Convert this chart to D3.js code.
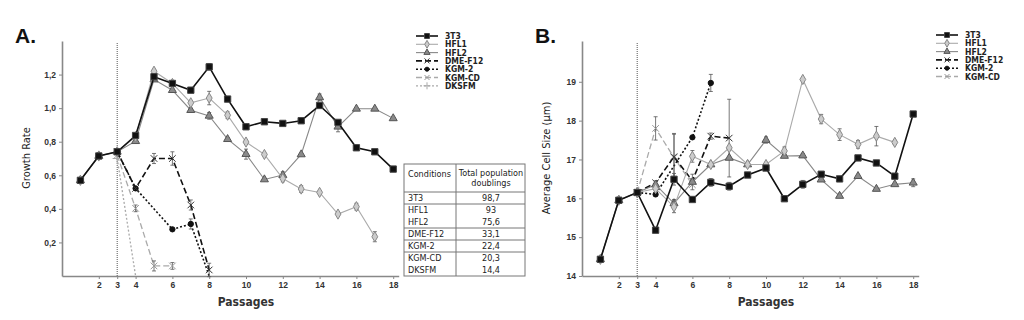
<!DOCTYPE html>
<html>
<head>
<meta charset="utf-8">
<script src="https://cdn.jsdelivr.net/npm/d3@7"></script>
<style>
  body { margin: 0; background: #fff; }
  svg { font-family: "Liberation Sans Narrow", "DejaVu Sans Condensed", Arial, sans-serif; }
</style>
</head>
<body>
<svg id="chart" width="1024" height="320"></svg>
<script>
// passages 1..18, null = no point
const passages = d3.range(1, 19);

// panel A: growth rate
const a3T3   = [0.57, 0.715, 0.74, 0.837, 1.187, 1.147, 1.107, 1.246, 1.054, 0.889, 0.919, 0.909, 0.925, 1.016, 0.915, 0.764, 0.740, 0.637];
const aHFL1  = [0.57, 0.715, 0.74, 0.83, 1.22, 1.147, 1.032, 1.06, 0.958, 0.798, 0.724, 0.581, 0.518, 0.498, 0.369, 0.413, 0.234, null];
const aHFL2  = [0.57, 0.715, 0.74, 0.803, 1.17, 1.107, 0.988, 0.954, 0.815, 0.726, 0.575, 0.601, 0.724, 1.064, 0.889, 0.996, 0.996, 0.939];
const aDME   = [null, null, 0.74, 0.522, 0.70, 0.70, 0.423, 0.036];
const aKGM2  = [null, null, 0.74, 0.522, null, 0.278, 0.31, 0.0];
const aKGMCD = [null, null, 0.72, 0.403, 0.06, 0.06];
const aDKSFM = [null, null, 0.70, 0.0];

const aErr3T3   = [0, 0, 0, 0.01, 0.01, 0.01, 0, 0.02, 0, 0, 0, 0, 0, 0, 0, 0, 0, 0];
const aErrHFL1  = [0, 0, 0, 0, 0.01, 0, 0, 0.04, 0.02, 0, 0, 0.02, 0.02, 0, 0, 0.02, 0.03, 0];
const aErrHFL2  = [0, 0, 0, 0, 0, 0, 0.01, 0.02, 0.01, 0.03, 0, 0.02, 0, 0.02, 0.03, 0, 0, 0];
const aErrDME   = [0, 0, 0, 0, 0.03, 0.04, 0.03, 0.04];
const aErrKGM2  = [0, 0, 0, 0, 0, 0, 0.03, 0];
const aErrKGMCD = [0, 0, 0, 0.02, 0.03, 0.02];

// panel B: average cell size (um)
const b3T3   = [14.43, 15.95, 16.15, 15.18, 16.49, 15.97, 16.41, 16.31, 16.60, 16.78, 15.99, 16.36, 16.62, 16.50, 17.04, 16.91, 16.57, 18.17];
const bHFL1  = [14.43, 15.95, 16.15, 16.25, 15.78, 17.08, 16.87, 17.30, 16.87, 16.87, 17.22, 19.06, 18.04, 17.64, 17.39, 17.60, 17.44, null];
const bHFL2  = [14.43, 15.95, 16.15, 16.35, 15.87, 16.42, 16.87, 17.04, 16.87, 17.50, 17.09, 17.10, 16.48, 16.06, 16.57, 16.24, 16.36, 16.40];
const bDME   = [null, null, 16.15, 16.40, 17.07, 16.45, 17.60, 17.55];
const bKGM2  = [null, null, 16.15, 16.10, null, 17.57, 18.97];
const bKGMCD = [null, null, 16.15, 17.80, 17.05, 16.35];

const bErr3T3   = [0, 0, 0, 0, 0.15, 0, 0.1, 0.1, 0, 0, 0, 0.1, 0, 0, 0, 0, 0, 0];
const bErrHFL1  = [0, 0, 0, 0, 0.15, 0.15, 0, 0, 0, 0, 0.1, 0, 0.12, 0.15, 0.1, 0.25, 0.05, 0];
const bErrHFL2  = [0, 0, 0, 0.1, 0.1, 0.2, 0, 0, 0, 0.08, 0, 0.05, 0, 0, 0, 0, 0, 0.1];
const bErrDME   = [0, 0, 0, 0, 0.6, 0, 0.08, 1.0];
const bErrKGM2  = [0, 0, 0, 0, 0, 0, 0.22];
const bErrKGMCD = [0, 0, 0, 0.3, 0.6, 0];

// table of total population doublings
const conditions = ["3T3", "HFL1", "HFL2", "DME-F12", "KGM-2", "KGM-CD", "DKSFM"];
const doublings  = ["98,7", "93", "75,6", "33,1", "22,4", "20,3", "14,4"];

const tickA = [0.2, 0.4, 0.6, 0.8, 1.0, 1.2];
const tickB = [14, 15, 16, 17, 18, 19];
const tickX = [2, 3, 4, 6, 8, 10, 12, 14, 16, 18];

const styles = {
  "3T3":     {line: "#111", width: 1.6, dash: null,  sym: d3.symbolSquare,   size: 40, fill: "#111", stroke: "#444"},
  "HFL1":    {line: "#aaa", width: 1.1, dash: null,  sym: d3.symbolDiamond,  size: 30, fill: "#ccc", stroke: "#888"},
  "HFL2":    {line: "#888", width: 1.1, dash: null,  sym: d3.symbolTriangle, size: 28, fill: "#8a8a8a", stroke: "#555"},
  "DME-F12": {line: "#111", width: 1.6, dash: "6,3", sym: d3.symbolTimes,    size: 30, fill: "none", stroke: "#333"},
  "KGM-2":   {line: "#111", width: 1.6, dash: "2,2", sym: d3.symbolCircle,   size: 22, fill: "#111", stroke: "#111"},
  "KGM-CD":  {line: "#aaa", width: 1.3, dash: "6,3", sym: d3.symbolTimes,    size: 30, fill: "none", stroke: "#999"},
  "DKSFM":   {line: "#aaa", width: 1.3, dash: "2,2", sym: d3.symbolPlus,     size: 30, fill: "#aaa", stroke: "#aaa"}
};

const svg = d3.select("#chart");

function panel(opt) {
  const x = d3.scaleLinear().domain([0, 18.3]).range([opt.x0, opt.x0 + 18.4 * 18.3]);
  const y = d3.scaleLinear().domain(opt.ydom).range([276, 41]);
  const g = svg.append("g");

  // axes
  g.append("g")
    .attr("transform", `translate(0,276)`)
    .call(d3.axisBottom(x).tickValues(tickX).tickSize(3).tickSizeOuter(0))
    .call(a => a.select(".domain").attr("stroke", "#888").attr("stroke-width", 1.6));
  g.append("g")
    .attr("transform", `translate(${opt.x0},0)`)
    .call(d3.axisLeft(y).tickValues(opt.ticks).tickSize(3).tickSizeOuter(0).tickFormat(opt.fmt))
    .call(a => a.select(".domain").attr("stroke", "#888").attr("stroke-width", 1.6));
  g.selectAll(".tick line").attr("stroke", "#888");
  g.selectAll(".tick text").attr("fill", "#333").style("font-size", "8.5px").style("font-weight", "bold");

  // passage 3 marker
  g.append("line")
    .attr("x1", x(3)).attr("x2", x(3)).attr("y1", 43).attr("y2", 276)
    .attr("stroke", "#555").attr("stroke-width", 1).attr("stroke-dasharray", "1,1");

  const line = d3.line().x(d => x(d.p)).y(d => y(d.v));

  opt.series.forEach(s => {
    const st = styles[s.name];
    const pts = s.vals.map((v, i) => ({p: passages[i], v: v, e: s.err ? (s.err[i] || 0) : 0}))
      .filter(d => d.v != null);
    g.append("path")
      .attr("d", line(pts))
      .attr("fill", "none")
      .attr("stroke", st.line)
      .attr("stroke-width", st.width)
      .attr("stroke-dasharray", st.dash);
    // error bars
    const eb = g.append("g").attr("stroke", "#555").attr("stroke-width", 0.8);
    pts.filter(d => d.e > 0).forEach(d => {
      eb.append("line").attr("x1", x(d.p)).attr("x2", x(d.p)).attr("y1", y(d.v - d.e)).attr("y2", y(d.v + d.e));
      [d.v - d.e, d.v + d.e].forEach(v => eb.append("line")
        .attr("x1", x(d.p) - 2).attr("x2", x(d.p) + 2).attr("y1", y(v)).attr("y2", y(v)));
    });
    const floor = opt.ydom[0];
    g.append("g").selectAll("path")
      .data(pts.filter(d => d.v > floor + 0.01))
      .join("path")
      .attr("transform", d => `translate(${x(d.p)},${y(d.v)})`)
      .attr("d", d3.symbol(st.sym, st.size))
      .attr("fill", st.fill)
      .attr("stroke", st.stroke)
      .attr("stroke-width", 1);
  });

  // labels
  svg.append("text")
    .attr("x", opt.x0 - 47).attr("y", 43)
    .style("font-family", "Arial, 'Liberation Sans', sans-serif")
    .style("font-size", "21px").style("font-weight", "bold").attr("fill", "#111")
    .text(opt.title);
  svg.append("text")
    .attr("transform", `translate(${opt.x0 - opt.ylabOff},158) rotate(-90)`)
    .attr("text-anchor", "middle")
    .style("font-size", "11px").attr("fill", "#222")
    .text(opt.ylabel);
  svg.append("text")
    .attr("x", x(10)).attr("y", 306)
    .attr("text-anchor", "middle")
    .style("font-size", "12px").style("font-weight", "bold").attr("fill", "#333")
    .text("Passages");

  // legend
  const leg = svg.append("g").attr("transform", `translate(${opt.legX},${opt.legY})`);
  opt.legend.forEach((name, i) => {
    const st = styles[name];
    const r = leg.append("g").attr("transform", `translate(0,${i * 8.3})`);
    r.append("line").attr("x1", 0).attr("x2", 22).attr("y1", 0).attr("y2", 0)
      .attr("stroke", st.line).attr("stroke-width", st.width).attr("stroke-dasharray", st.dash);
    r.append("path").attr("transform", "translate(11,0)")
      .attr("d", d3.symbol(st.sym, st.size * 0.6))
      .attr("fill", st.fill).attr("stroke", st.stroke).attr("stroke-width", 1);
    r.append("text").attr("x", 29).attr("y", 3)
      .style("font-size", "8.5px").style("font-weight", "bold").attr("fill", "#222")
      .text(name);
  });
}

panel({
  x0: 62, ydom: [0, 1.4], ticks: tickA,
  fmt: d => d3.format(".1f")(d).replace(".", ","),
  title: "A.", ylabel: "Growth Rate", ylabOff: 32,
  legX: 416, legY: 36,
  legend: conditions,
  series: [
    {name: "DKSFM", vals: aDKSFM},
    {name: "KGM-CD", vals: aKGMCD, err: aErrKGMCD},
    {name: "KGM-2", vals: aKGM2, err: aErrKGM2},
    {name: "DME-F12", vals: aDME, err: aErrDME},
    {name: "HFL2", vals: aHFL2, err: aErrHFL2},
    {name: "HFL1", vals: aHFL1, err: aErrHFL1},
    {name: "3T3", vals: a3T3, err: aErr3T3}
  ]
});

panel({
  x0: 582, ydom: [14, 20.05], ticks: tickB,
  fmt: d3.format("d"),
  title: "B.", ylabel: "Average Cell Size (\u03bcm)", ylabOff: 32,
  legX: 936, legY: 35,
  legend: conditions.slice(0, 6),
  series: [
    {name: "KGM-CD", vals: bKGMCD, err: bErrKGMCD},
    {name: "KGM-2", vals: bKGM2, err: bErrKGM2},
    {name: "DME-F12", vals: bDME, err: bErrDME},
    {name: "HFL2", vals: bHFL2, err: bErrHFL2},
    {name: "HFL1", vals: bHFL1, err: bErrHFL1},
    {name: "3T3", vals: b3T3, err: bErr3T3}
  ]
});

// doublings table
const tb = svg.append("g").attr("transform", "translate(404,164)");
const groupLines = [28, 40, 64, 76, 88];
tb.append("rect").attr("width", 121).attr("height", 112)
  .attr("fill", "#fff").attr("stroke", "#777").attr("stroke-width", 1);
tb.append("line").attr("x1", 52).attr("x2", 52).attr("y1", 0).attr("y2", 112).attr("stroke", "#777");
groupLines.forEach(v => tb.append("line").attr("x1", 0).attr("x2", 121).attr("y1", v).attr("y2", v)
  .attr("stroke", "#777").attr("stroke-width", 1));
tb.append("text").attr("x", 4).attr("y", 13).style("font-size", "9px").attr("fill", "#222").text("Conditions");
tb.append("text").attr("x", 87).attr("y", 12).attr("text-anchor", "middle").style("font-size", "9px").attr("fill", "#222").text("Total population");
tb.append("text").attr("x", 87).attr("y", 22).attr("text-anchor", "middle").style("font-size", "9px").attr("fill", "#222").text("doublings");
conditions.forEach((c, i) => {
  const yy = 28 + i * 12 + 9;
  tb.append("text").attr("x", 4).attr("y", yy).style("font-size", "9px").attr("fill", "#222").text(c);
  tb.append("text").attr("x", 87).attr("y", yy).attr("text-anchor", "middle").style("font-size", "9px").attr("fill", "#222").text(doublings[i]);
});
</script>
</body>
</html>
